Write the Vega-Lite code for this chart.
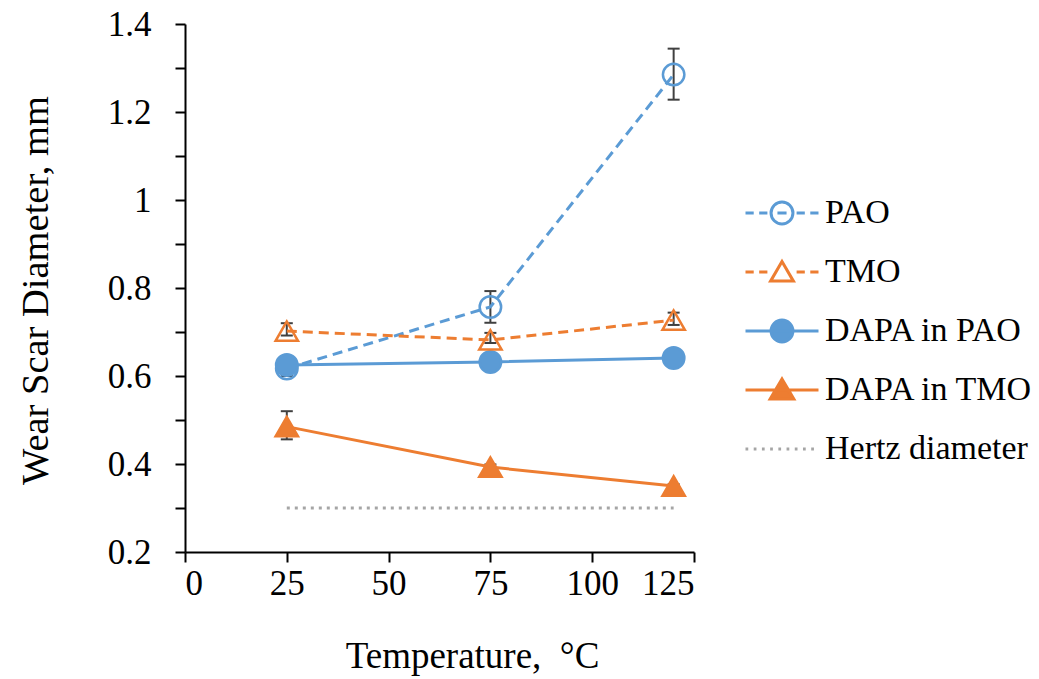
{
  "$schema": "https://vega.github.io/schema/vega-lite/v6.json",
  "width": 509,
  "height": 528,
  "autosize": "none",
  "padding": {"left": 185, "top": 24, "right": 345, "bottom": 127},
  "background": "white",
  "datasets": {
    "main": [
      {"series": "PAO", "temp": 25, "wsd": 0.617, "lo": 0.600, "hi": 0.632},
      {"series": "PAO", "temp": 75, "wsd": 0.757, "lo": 0.721, "hi": 0.793},
      {"series": "PAO", "temp": 120, "wsd": 1.285, "lo": 1.228, "hi": 1.344},
      {"series": "TMO", "temp": 25, "wsd": 0.702, "lo": 0.692, "hi": 0.72},
      {"series": "TMO", "temp": 75, "wsd": 0.682, "lo": 0.675, "hi": 0.698},
      {"series": "TMO", "temp": 120, "wsd": 0.727, "lo": 0.716, "hi": 0.744},
      {"series": "DAPA in PAO", "temp": 25, "wsd": 0.625, "lo": 0.612, "hi": 0.638},
      {"series": "DAPA in PAO", "temp": 75, "wsd": 0.632, "lo": 0.626, "hi": 0.638},
      {"series": "DAPA in PAO", "temp": 120, "wsd": 0.641, "lo": 0.636, "hi": 0.646},
      {"series": "DAPA in TMO", "temp": 25, "wsd": 0.485, "lo": 0.456, "hi": 0.52},
      {"series": "DAPA in TMO", "temp": 75, "wsd": 0.393, "lo": 0.387, "hi": 0.399},
      {"series": "DAPA in TMO", "temp": 120, "wsd": 0.35, "lo": 0.346, "hi": 0.354}
    ],
    "hertz": [
      {"series": "Hertz diameter", "temp": 25, "wsd": 0.3},
      {"series": "Hertz diameter", "temp": 120, "wsd": 0.3}
    ]
  },
  "config": {
    "view": {"stroke": null},
    "axis": {
      "grid": false,
      "labelFont": "Liberation Serif",
      "labelFontSize": 35,
      "labelColor": "#000000",
      "titleFont": "Liberation Serif",
      "titleFontSize": 38.5,
      "titleFontWeight": "normal",
      "titleColor": "#000000",
      "domainColor": "#000000",
      "domainWidth": 2,
      "tickColor": "#000000",
      "tickWidth": 2,
      "tickSize": 10
    },
    "legend": {
      "labelFont": "Liberation Serif",
      "labelFontSize": 34,
      "labelColor": "#000000",
      "labelLimit": 400,
      "symbolSize": 333,
      "symbolStrokeWidth": 3,
      "padding": 0
    }
  },
  "layer": [
    {
      "data": {"name": "main"},
      "mark": {"type": "rule", "color": "#404040", "strokeWidth": 2},
      "encoding": {
        "x": {"field": "temp", "type": "quantitative"},
        "y": {"field": "lo", "type": "quantitative"},
        "y2": {"field": "hi"}
      }
    },
    {
      "data": {"name": "main"},
      "mark": {"type": "tick", "orient": "horizontal", "color": "#404040", "size": 12, "thickness": 2, "opacity": 1},
      "encoding": {
        "x": {"field": "temp", "type": "quantitative"},
        "y": {"field": "lo", "type": "quantitative"}
      }
    },
    {
      "data": {"name": "main"},
      "mark": {"type": "tick", "orient": "horizontal", "color": "#404040", "size": 12, "thickness": 2, "opacity": 1},
      "encoding": {
        "x": {"field": "temp", "type": "quantitative"},
        "y": {"field": "hi", "type": "quantitative"}
      }
    },
    {
      "data": {"name": "hertz"},
      "mark": {"type": "line", "strokeWidth": 3, "strokeDash": [3, 5]},
      "encoding": {
        "x": {"field": "temp", "type": "quantitative"},
        "y": {"field": "wsd", "type": "quantitative"},
        "stroke": {"field": "series", "type": "nominal"}
      }
    },
    {
      "data": {"name": "main"},
      "transform": [{"filter": {"field": "series", "oneOf": ["PAO", "TMO"]}}],
      "mark": {"type": "line", "strokeWidth": 3, "strokeDash": [10, 6]},
      "encoding": {
        "x": {"field": "temp", "type": "quantitative"},
        "y": {"field": "wsd", "type": "quantitative"},
        "stroke": {"field": "series", "type": "nominal"}
      }
    },
    {
      "data": {"name": "main"},
      "transform": [{"filter": {"field": "series", "oneOf": ["DAPA in PAO", "DAPA in TMO"]}}],
      "mark": {"type": "line", "strokeWidth": 3},
      "encoding": {
        "x": {"field": "temp", "type": "quantitative"},
        "y": {"field": "wsd", "type": "quantitative"},
        "stroke": {"field": "series", "type": "nominal"}
      }
    },
    {
      "data": {"name": "main"},
      "transform": [{"filter": {"field": "series", "oneOf": ["PAO", "DAPA in PAO"]}}],
      "mark": {"type": "point", "shape": "circle", "size": 460, "strokeWidth": 2.5, "opacity": 1},
      "encoding": {
        "x": {"field": "temp", "type": "quantitative"},
        "y": {"field": "wsd", "type": "quantitative"},
        "stroke": {"field": "series", "type": "nominal"},
        "fill": {"field": "series", "type": "nominal"}
      }
    },
    {
      "data": {"name": "main"},
      "transform": [{"filter": {"field": "series", "oneOf": ["TMO", "DAPA in TMO"]}}],
      "mark": {"type": "point", "shape": "triangle-up", "size": 500, "strokeWidth": 2.5, "opacity": 1},
      "encoding": {
        "x": {"field": "temp", "type": "quantitative"},
        "y": {"field": "wsd", "type": "quantitative"},
        "stroke": {"field": "series", "type": "nominal"},
        "fill": {"field": "series", "type": "nominal"}
      }
    },
    {
      "data": {"name": "main"},
      "transform": [{"filter": "datum.temp > 999"}],
      "mark": {"type": "point", "opacity": 1, "strokeWidth": 3},
      "encoding": {
        "x": {"field": "temp", "type": "quantitative",
          "scale": {"domain": [0, 125], "nice": false, "zero": false},
          "axis": {"values": [0, 25, 50, 75, 100, 125], "title": "Temperature,\u00a0 °C", "titleFontSize": 37,
                   "labelPadding": 4, "titleBaseline": "alphabetic", "titleY": 115, "titleX": 287, "titleAnchor": "middle"}},
        "y": {"field": "wsd", "type": "quantitative",
          "scale": {"domain": [0.2, 1.4], "nice": false, "zero": false},
          "axis": {"values": [0.2, 0.3, 0.4, 0.5, 0.6, 0.7, 0.8, 0.9, 1.0, 1.1, 1.2, 1.3, 1.4],
                   "format": ".2~f", "labelExpr": "round(datum.value * 10) % 2 == 0 ? datum.label : ''",
                   "labelPadding": 24, "title": "Wear Scar Diameter, mm",
                   "titleAngle": -90, "titleBaseline": "alphabetic", "titleX": -138, "titleY": 266, "titleAnchor": "middle"}},
        "shape": {"field": "series", "type": "nominal",
          "scale": {"domain": ["PAO", "TMO", "DAPA in PAO", "DAPA in TMO", "Hertz diameter"],
            "range": [
              "M-4,0H-3.1M-2.5,0H-1.6M-0.5,0H0.5M1.6,0H2.5M3.1,0H4M-1.2,0A1.2,1.2 0 1 1 1.2,0A1.2,1.2 0 1 1 -1.2,0Z",
              "M-4,0H-3.1M-2.5,0H-1.6M1.6,0H2.5M3.1,0H4M0,-1.15L1.25,1L-1.25,1Z",
              "M-4,0H4M-1.2,0A1.2,1.2 0 1 1 1.2,0A1.2,1.2 0 1 1 -1.2,0Z",
              "M-4,0H4M0,-1.2L1.3,1L-1.3,1Z",
              "M-4,0H-3.7M-3.1,0H-2.8M-2.2,0H-1.9M-1.3,0H-1M-0.4,0H-0.1M0.5,0H0.8M1.4,0H1.7M2.3,0H2.6M3.2,0H3.5"
            ]},
          "legend": {"title": null, "orient": "none", "legendX": 580, "legendY": 172, "labelOffset": 26, "rowPadding": 25,
                     "symbolSize": 333, "symbolStrokeWidth": 3, "labelFont": "Liberation Serif", "labelFontSize": 34, "labelLimit": 400, "labelColor": "#000000"}},
        "stroke": {"field": "series", "type": "nominal",
          "scale": {"domain": ["PAO", "TMO", "DAPA in PAO", "DAPA in TMO", "Hertz diameter"],
                    "range": ["#5B9BD5", "#ED7D31", "#5B9BD5", "#ED7D31", "#A5A5A5"]},
          "legend": {"title": null, "orient": "none", "legendX": 580, "legendY": 172}},
        "fill": {"field": "series", "type": "nominal",
          "scale": {"domain": ["PAO", "TMO", "DAPA in PAO", "DAPA in TMO", "Hertz diameter"],
                    "range": ["transparent", "transparent", "#5B9BD5", "#ED7D31", "transparent"]},
          "legend": {"title": null, "orient": "none", "legendX": 580, "legendY": 172}}
      }
    }
  ]
}
